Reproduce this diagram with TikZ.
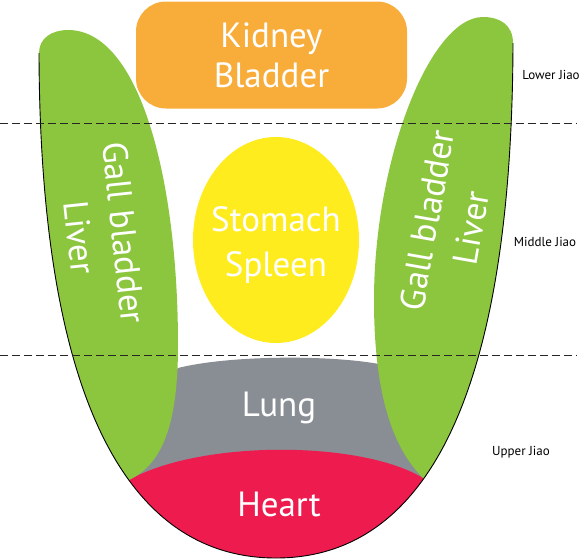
\documentclass[tikz,border=0pt]{standalone}
\usepackage{fontspec}
\setmainfont{PT Sans}

\definecolor{orangerein}{HTML}{F8AD3B}
\definecolor{vertfoie}{HTML}{8CC63F}
\definecolor{jauneestomac}{HTML}{FFEC1F}
\definecolor{grispoumon}{HTML}{898E94}
\definecolor{rougecoeur}{HTML}{EE1C4E}

\begin{document}
\begin{tikzpicture}[x=1pt, y=-1pt,
  organe/.style={text=white, align=center, font=\fontsize{35}{45}\selectfont},
  jiao/.style={text=black, font=\fontsize{13}{15}\selectfont},
  separation/.style={dash pattern=on 8pt off 4pt, line width=0.8pt, black!85}]

\useasboundingbox (0,0) rectangle (582,560);

% Zones dans le contour en U
\begin{scope}
\clip (39,53) .. controls (40,400) and (128,558) .. (276,558) .. controls (424,558) and (512,400) .. (513,43) -- (513,0) -- (39,0) -- cycle;
\fill[grispoumon] (178,368) .. controls (230,355) and (330,355) .. (379,364) -- (480,480) -- (80,480) -- cycle;
\fill[rougecoeur] (129,480) .. controls (200,440) and (360,440) .. (423,478) -- (470,600) -- (80,600) -- cycle;
\fill[vertfoie] (39,53) .. controls (39,38) and (52,30) .. (68,30) .. controls (140,30) and (178,180) .. (178,345) .. controls (178,430) and (160,465) .. (129,480) -- (20,480) -- (20,53) -- cycle;
\fill[vertfoie] (513,43) .. controls (513,25) and (500,17) .. (483,17) .. controls (430,17) and (374,160) .. (374,300) .. controls (374,400) and (395,450) .. (423,478) -- (560,478) -- (560,43) -- cycle;
\end{scope}

% Contour
\draw[line width=0.9pt] (39,53) .. controls (40,400) and (128,558) .. (276,558) .. controls (424,558) and (512,400) .. (513,43);

% Rein et estomac
\node[organe, fill=orangerein, rounded corners=30pt, minimum width=271pt, minimum height=107pt, inner sep=0pt, font=\fontsize{35}{40}\selectfont] (rein) at (271.5,55) {Kidney\\Bladder};
\fill[jauneestomac] (276,240) ellipse [x radius=83, y radius=103];
\node[organe] (estomac) at (276,245) {Stomach\\Spleen};

% Poumon et coeur
\node[organe] (poumon) at (279,408) {Lung};
\node[organe] (coeur) at (279,504) {Heart};

% Foie
\node[organe, rotate=-84] (foiegauche) at (102,235) {Gall bladder\\Liver};
\node[organe, rotate=80] (foiedroit) at (449,224) {Gall bladder\\Liver};

% Separations
\draw[separation] (0,123) -- (577,123);
\draw[separation] (0,355) -- (577,355);

% Jiao
\node[jiao] (bas) at (551,75) {Lower Jiao};
\node[jiao] (milieu) at (545,242) {Middle Jiao};
\node[jiao] (haut) at (521,452) {Upper Jiao};

\end{tikzpicture}
\end{document}
